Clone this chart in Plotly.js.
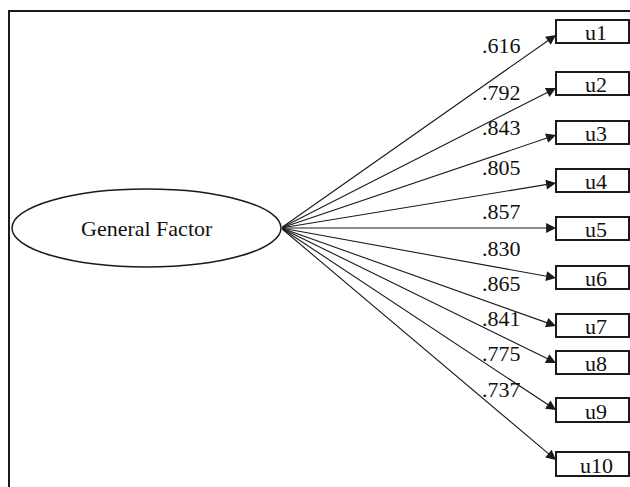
<!DOCTYPE html>
<html>
<head>
<meta charset="utf-8">
<script src="https://cdn.plot.ly/plotly-3.0.1.min.js"></script>
<style>html,body{margin:0;padding:0;background:#fff;}#chart{width:630px;height:487px;}</style>
</head>
<body>
<div id="chart"></div>
<script>
// ---- data ----
var factorName = "General Factor";
var items = ["u1", "u2", "u3", "u4", "u5", "u6", "u7", "u8", "u9", "u10"];
var loadings = [".616", ".792", ".843", ".805", ".857", ".830", ".865", ".841", ".775", ".737"];

// ---- layout (pixel positions of diagram nodes) ----
var boxTop =    [20, 72, 121, 169, 217, 266, 314, 351, 398, 452];
var boxBottom = [43, 95, 144, 192, 240, 289, 337, 374, 422, 476];
var tipY =      [35, 88, 135, 183, 228, 278, 326, 363, 410, 460];
var labelY =    [45, 92, 127, 167, 211, 248, 283, 318, 353, 389];
var boxLeft = 556, boxRight = 629;
var origin = {x: 281, y: 228};
var ell = {x0: 12, x1: 281, y0: 189, y1: 267};

var FONT = "Liberation Serif";
var ink = "#1a1a1a";
var txt = "#111";

var shapes = [
  {type: "rect", xref: "x", yref: "y", x0: 9, x1: 660, y0: 11, y1: 510,
   line: {color: ink, width: 2}, fillcolor: "rgba(0,0,0,0)"},
  {type: "circle", xref: "x", yref: "y", x0: ell.x0, x1: ell.x1, y0: ell.y0, y1: ell.y1,
   line: {color: ink, width: 1.5}, fillcolor: "#fff"}
];
var annotations = [
  {x: (ell.x0 + ell.x1) / 2, y: (ell.y0 + ell.y1) / 2, xref: "x", yref: "y", text: factorName,
   showarrow: false, font: {family: FONT, size: 22, color: txt}}
];

items.forEach(function (it, i) {
  shapes.push({type: "rect", xref: "x", yref: "y", x0: boxLeft, x1: boxRight,
    y0: boxTop[i], y1: boxBottom[i], line: {color: ink, width: 2}, fillcolor: "#fff"});
  annotations.push({x: boxLeft, y: tipY[i], ax: origin.x, ay: origin.y,
    xref: "x", yref: "y", axref: "x", ayref: "y", text: "", showarrow: true,
    arrowhead: 2, arrowsize: 1.8, arrowwidth: 1.1, arrowcolor: ink, standoff: 0, startstandoff: 0});
  annotations.push({x: 596, y: (boxTop[i] + boxBottom[i]) / 2 + 1, xref: "x", yref: "y", text: it,
    showarrow: false, font: {family: FONT, size: 22, color: txt}});
  annotations.push({x: 501, y: labelY[i], xref: "x", yref: "y", text: loadings[i],
    showarrow: false, font: {family: FONT, size: 22, color: txt}});
});

var layout = {
  width: 630, height: 487,
  margin: {l: 0, r: 0, t: 0, b: 0},
  paper_bgcolor: "#fff", plot_bgcolor: "#fff",
  font: {family: FONT},
  xaxis: {range: [0, 630], visible: false, fixedrange: true},
  yaxis: {range: [487, 0], visible: false, fixedrange: true},
  shapes: shapes,
  annotations: annotations,
  showlegend: false
};

Plotly.newPlot("chart", [{x: [], y: [], type: "scatter", mode: "markers", hoverinfo: "skip"}], layout,
  {staticPlot: true, displayModeBar: false});
</script>
</body>
</html>
